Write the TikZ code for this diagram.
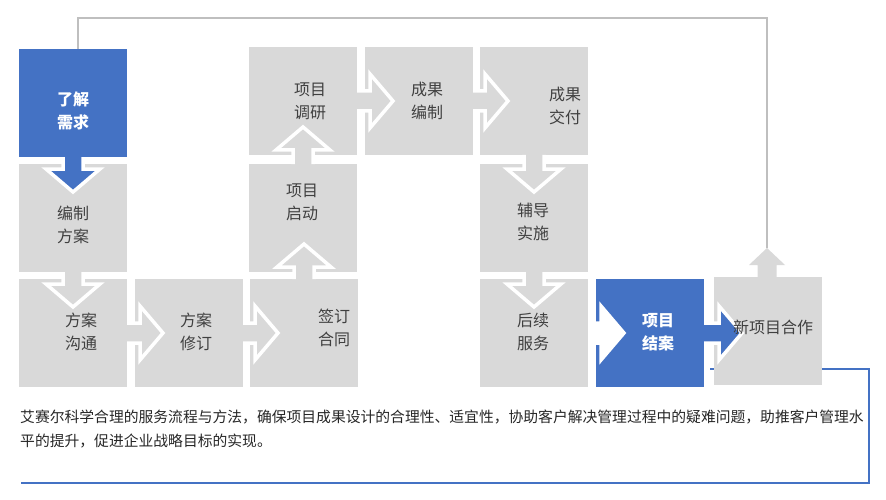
\documentclass[tikz,border=0pt]{standalone}
\usepackage{fontspec}
\newfontfamily\cjk{Noto Sans CJK SC}
\usetikzlibrary{calc}
\definecolor{bblue}{HTML}{4472C4}
\definecolor{bgray}{HTML}{D9D9D9}
\definecolor{tgray}{HTML}{404040}
\definecolor{lgray}{HTML}{BFBFBF}
\definecolor{dtext}{HTML}{262626}
\tikzset{
  gbox/.style={fill=bgray, minimum width=108pt, minimum height=108pt, inner sep=0pt, outer sep=0pt, anchor=north west},
  bbox/.style={gbox, fill=bblue},
  lbl/.style={font=\cjk\fontsize{16}{23}\selectfont, text=tgray, align=center, inner sep=0pt},
  wlbl/.style={lbl, text=white, font=\cjk\bfseries\fontsize{16}{23}\selectfont},
  outl/.style={draw=white, line width=3.5pt, line join=miter},
  desc/.style={font=\cjk\fontsize{14.8}{24}\selectfont, text=dtext, inner sep=0pt},
}
% right-pointing block arrow from #1 to #2 filled with #3
\newcommand\flowR[3]{%
  \fill[#3] ($(#1.east)+(0,-10)$) -- ($(#2.west|-#1.east)+(5,-10)$) -- ($(#2.west|-#1.east)+(5,-27)$) -- ($(#2.west|-#1.east)+(28,0)$) -- ($(#2.west|-#1.east)+(5,27)$) -- ($(#2.west|-#1.east)+(5,10)$) -- ($(#1.east)+(0,10)$) -- cycle;
  \draw[outl] ($(#1.east)+(0,-10)$) -- ($(#2.west|-#1.east)+(5,-10)$) -- ($(#2.west|-#1.east)+(5,-27)$) -- ($(#2.west|-#1.east)+(28,0)$) -- ($(#2.west|-#1.east)+(5,27)$) -- ($(#2.west|-#1.east)+(5,10)$) -- ($(#1.east)+(0,10)$);
}
% downward block arrow
\newcommand\flowD[3]{%
  \fill[#3] ($(#1.south)+(-10,0)$) -- ($(#2.north-|#1.south)+(-10,5)$) -- ($(#2.north-|#1.south)+(-27,5)$) -- ($(#2.north-|#1.south)+(0,28)$) -- ($(#2.north-|#1.south)+(27,5)$) -- ($(#2.north-|#1.south)+(10,5)$) -- ($(#1.south)+(10,0)$) -- cycle;
  \draw[outl] ($(#1.south)+(-10,0)$) -- ($(#2.north-|#1.south)+(-10,5)$) -- ($(#2.north-|#1.south)+(-27,5)$) -- ($(#2.north-|#1.south)+(0,28)$) -- ($(#2.north-|#1.south)+(27,5)$) -- ($(#2.north-|#1.south)+(10,5)$) -- ($(#1.south)+(10,0)$);
}
% upward block arrow
\newcommand\flowU[3]{%
  \fill[#3] ($(#1.north)+(-10,0)$) -- ($(#2.south-|#1.north)+(-10,-5)$) -- ($(#2.south-|#1.north)+(-27,-5)$) -- ($(#2.south-|#1.north)+(0,-28)$) -- ($(#2.south-|#1.north)+(27,-5)$) -- ($(#2.south-|#1.north)+(10,-5)$) -- ($(#1.north)+(10,0)$) -- cycle;
  \draw[outl] ($(#1.north)+(-10,0)$) -- ($(#2.south-|#1.north)+(-10,-5)$) -- ($(#2.south-|#1.north)+(-27,-5)$) -- ($(#2.south-|#1.north)+(0,-28)$) -- ($(#2.south-|#1.north)+(27,-5)$) -- ($(#2.south-|#1.north)+(10,-5)$) -- ($(#1.north)+(10,0)$);
}
\begin{document}
\begin{tikzpicture}[x=1pt, y=-1pt]
\useasboundingbox (0,0) rectangle (886,500);
% blue frame line
\coordinate (bl0) at (710,369);
\coordinate (bl1) at (869,369);
\coordinate (bl2) at (869,483);
\coordinate (bl3) at (21,483);
\draw[bblue, line width=2pt] (bl0) -- (bl1) -- (bl2) -- (bl3);
% boxes
\node[bbox] (b1) at (19,49) {};
\node[gbox] (b2) at (19,164) {};
\node[gbox] (b3) at (19,279) {};
\node[gbox] (b4) at (135,279) {};
\node[gbox] (b5) at (250,279) {};
\node[gbox] (b6) at (249,164) {};
\node[gbox] (b7) at (249,47) {};
\node[gbox] (b8) at (365,47) {};
\node[gbox] (b9) at (480,47) {};
\node[gbox] (b10) at (480,164) {};
\node[gbox] (b11) at (480,279) {};
\node[bbox] (b12) at (596,279) {};
\node[gbox] (b13) at (714,277) {};
% block arrows
\flowD{b1}{b2}{bblue}
\flowD{b2}{b3}{bgray}
\flowR{b3}{b4}{bgray}
\flowR{b4}{b5}{bgray}
\flowU{b5}{b6}{bgray}
\flowU{b6}{b7}{bgray}
\flowR{b7}{b8}{bgray}
\flowR{b8}{b9}{bgray}
\flowD{b9}{b10}{bgray}
\flowD{b10}{b11}{bgray}
\flowR{b11}{b12}{white}
\flowR{b12}{b13}{bblue}
% up arrow on top of the last box and return line
\coordinate (ntip) at ($(b13.north)+(-1,-29)$);
\fill[bgray] ($(b13.north)+(-10.5,0.5)$) -- ($(b13.north)+(-10.5,-12)$) -- ($(b13.north)+(-19,-12)$) -- (ntip) -- ($(b13.north)+(17,-12)$) -- ($(b13.north)+(8.5,-12)$) -- ($(b13.north)+(8.5,0.5)$) -- cycle;
\draw[lgray, line width=1.5pt] (ntip) -- ($(ntip)+(0,-230)$) -| ($(b1.north)+(5,0)$);
% labels
\node[wlbl] (t1) at (73,111) {了解\\需求};
\node[lbl] (t2) at (73,225) {编制\\方案};
\node[lbl] (t3) at (81,332) {方案\\沟通};
\node[lbl] (t4) at (196,332) {方案\\修订};
\node[lbl] (t5) at (334,328) {签订\\合同};
\node[lbl] (t6) at (302,202) {项目\\启动};
\node[lbl] (t7) at (310,101) {项目\\调研};
\node[lbl] (t8) at (427,101) {成果\\编制};
\node[lbl] (t9) at (565,106) {成果\\交付};
\node[lbl] (t10) at (533,222) {辅导\\实施};
\node[lbl] (t11) at (533,332) {后续\\服务};
\node[wlbl] (t12) at (658,332) {项目\\结案};
\node[lbl] (t13) at (773,327) {新项目合作};
% description
\node[desc, anchor=base west] (d1) at (20,422.5) {艾赛尔科学合理的服务流程与方法，确保项目成果设计的合理性、适宜性，协助客户解决管理过程中的疑难问题，助推客户管理水};
\node[desc, anchor=base west] (d2) at (20,446.5) {平的提升，促进企业战略目标的实现。};
\end{tikzpicture}
\end{document}
